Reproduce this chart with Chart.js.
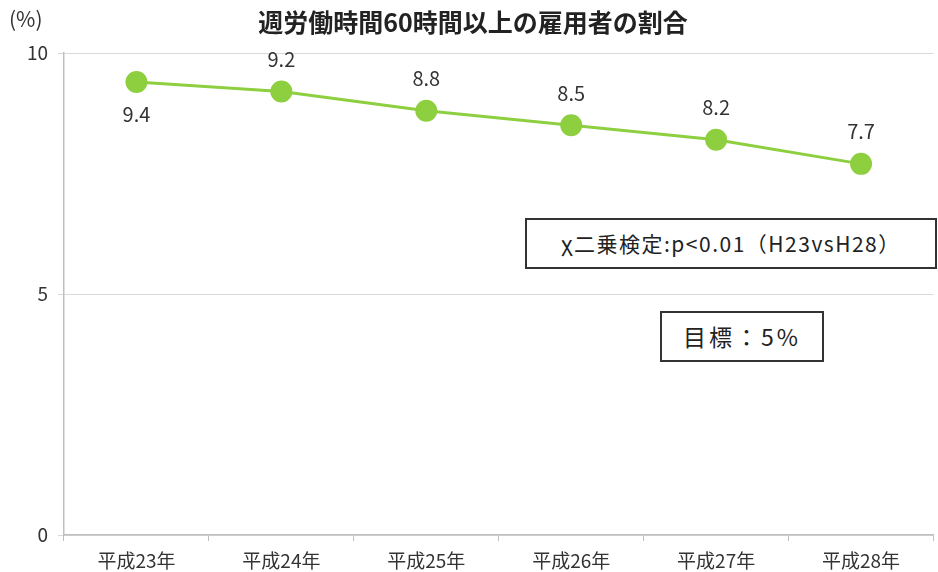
<!DOCTYPE html>
<html>
<head>
<meta charset="utf-8">
<script src="https://cdn.jsdelivr.net/npm/chart.js@4"></script>
<style>
  html, body { margin: 0; padding: 0; background: #fff; overflow: hidden; }
  body { width: 938px; height: 572px; position: relative; font-family: "Noto Sans CJK JP", "Noto Sans", sans-serif; color: #404040; }
  #wrap { position: absolute; left: 0; top: 0; width: 946px; height: 572px; }
  .note { position: absolute; border: 2px solid #333; background: #fff; text-align: center; box-sizing: border-box; color: #222; white-space: nowrap; }
  #unit { position: absolute; left: 9px; top: 3px; font-size: 21px; color: #333; }
</style>
</head>
<body>
<div id="wrap"><canvas id="chart" width="946" height="572"></canvas></div>
<div id="unit">(%)</div>
<div class="note" style="left:525px; top:218px; width:412px; height:51px; line-height:47px; font-size:21px; letter-spacing:1.5px;">χ二乗検定:p&lt;0.01（H23vsH28）</div>
<div class="note" style="left:660px; top:311px; width:164px; height:51px; line-height:47px; font-size:23px; letter-spacing:3px;">目標：5%</div>
<script>
// --- DATA ---
const years = ['平成23年', '平成24年', '平成25年', '平成26年', '平成27年', '平成28年'];
const shareOver60h = [9.4, 9.2, 8.8, 8.5, 8.2, 7.7];
const yTicks = [0, 5, 10];

const GREEN = '#8DCF3F';
const TEXT = '#333';
const FONT = '"Noto Sans CJK JP", "Noto Sans", sans-serif';

// draws value labels; first point's label goes below, others above
const valueLabels = {
    id: 'valueLabels',
    afterDatasetsDraw(chart) {
        const ctx = chart.ctx;
        const meta = chart.getDatasetMeta(0);
        ctx.save();
        ctx.font = '20px ' + FONT;
        ctx.fillStyle = '#333';
        ctx.textAlign = 'center';
        ctx.textBaseline = 'middle';
        meta.data.forEach((pt, i) => {
            const v = chart.data.datasets[0].data[i];
            const dy = i === 0 ? 32 : -32;
            ctx.fillText(v.toFixed(1), pt.x, pt.y + dy);
        });
        ctx.restore();
    }
};

new Chart(document.getElementById('chart'), {
    type: 'line',
    data: {
        labels: years,
        datasets: [{
            data: shareOver60h,
            borderColor: GREEN,
            backgroundColor: GREEN,
            borderWidth: 3,
            pointRadius: 9.5,
            pointHoverRadius: 9.5,
            pointBackgroundColor: GREEN,
            pointBorderColor: GREEN,
            tension: 0
        }]
    },
    options: {
        responsive: false,
        animation: false,
        layout: { padding: 0 },
        plugins: {
            legend: { display: false },
            tooltip: { enabled: false },
            title: {
                display: true,
                text: '週労働時間60時間以上の雇用者の割合',
                color: '#222',
                font: { family: FONT, size: 25, weight: 'bold' },
                padding: { top: 7, bottom: 16 }
            }
        },
        scales: {
            x: {
                offset: true,
                afterFit(scale) { scale.height = 37; },
                grid: { offset: true, drawOnChartArea: false, drawTicks: true, tickLength: 6, color: '#bfbfbf' },
                border: { color: '#bfbfbf', width: 1.5 },
                ticks: { color: TEXT, font: { family: FONT, size: 19 }, padding: 8, maxRotation: 0 }
            },
            y: {
                min: 0,
                max: 10,
                afterBuildTicks(scale) { scale.ticks = yTicks.map(v => ({ value: v })); },
                afterFit(scale) { scale.width = 64; },
                grid: { color: '#d9d9d9', tickLength: 6, drawTicks: true },
                border: { color: '#bfbfbf', width: 1.5 },
                ticks: { color: TEXT, font: { family: FONT, size: 19 }, padding: 10 }
            }
        }
    },
    plugins: [valueLabels]
});
</script>
</body>
</html>
